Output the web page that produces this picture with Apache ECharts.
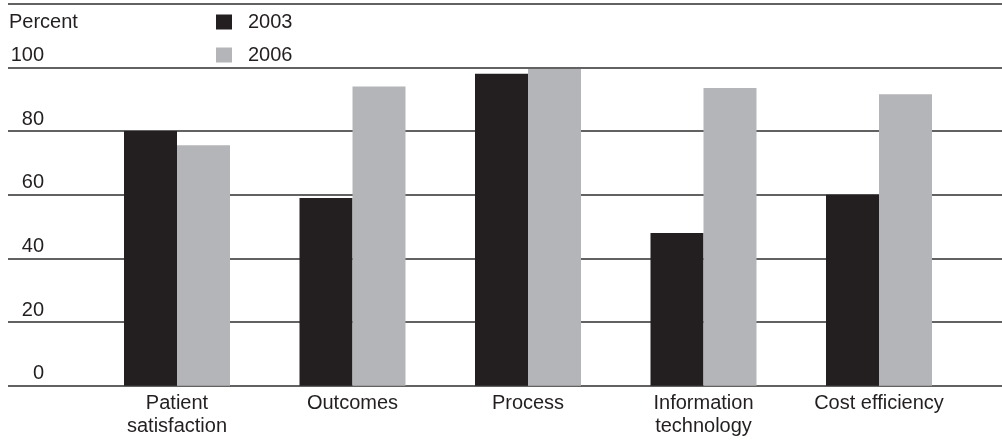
<!DOCTYPE html>
<html>
<head>
<meta charset="utf-8">
<script src="https://cdn.jsdelivr.net/npm/echarts@6/dist/echarts.min.js"></script>
<style>
html,body{margin:0;padding:0;background:#fff;}
#chart{width:1002px;height:445px;}
</style>
</head>
<body>
<div id="chart"></div>
<script>
var categories = ['Patient\nsatisfaction', 'Outcomes', 'Process', 'Information\ntechnology', 'Cost efficiency'];
var seriesNames = ['2003', '2006'];
var values2003 = [80, 59, 98, 48, 60];
var values2006 = [75.5, 94, 99.5, 93.5, 91.5];
var yTicks = [0, 20, 40, 60, 80, 100];
var unitLabel = 'Percent';

var FONT = 'Liberation Sans';
var TXT = '#231f20';
var chart = echarts.init(document.getElementById('chart'), null, {renderer: 'canvas'});

function legendAt(name, top) {
  return {
    orient: 'vertical', left: 216, top: top, padding: 0,
    itemWidth: 16, itemHeight: 15, itemGap: 0,
    icon: 'rect',
    textStyle: {fontFamily: FONT, fontSize: 20, color: TXT, lineHeight: 15, padding: [2, 0, 0, 11]},
    data: [name]
  };
}

chart.setOption({
  animation: false,
  backgroundColor: '#fff',
  textStyle: {fontFamily: FONT},
  graphic: [{
    type: 'text', left: 9, top: 12,
    style: {text: unitLabel, font: '20px "' + FONT + '"', fill: TXT}
  }],
  legend: [legendAt(seriesNames[0], 12), legendAt(seriesNames[1], 45)],
  grid: [
    {left: 8, right: 0, top: 3.6, bottom: 59.2},
    {left: 89.25, width: 877.5, top: 3.6, bottom: 59.2}
  ],
  xAxis: [
    {gridIndex: 0, type: 'value', min: 0, max: 1, show: false},
    {gridIndex: 1, type: 'category', data: categories,
     axisLine: {show: false}, axisTick: {show: false},
     axisLabel: {fontFamily: FONT, fontSize: 20, color: TXT, lineHeight: 23, margin: 6, interval: 0}}
  ],
  yAxis: [
    {gridIndex: 0, type: 'value', min: 0, max: 120, interval: 20,
     axisLine: {show: false}, axisTick: {show: false},
     splitLine: {show: true, lineStyle: {color: '#2e2e2e', width: 1.6}},
     axisLabel: {inside: true, align: 'right', margin: 36, verticalAlign: 'bottom',
       padding: [0, 0, 2, 0], fontFamily: FONT, fontSize: 20, color: TXT,
       formatter: function (v) { return yTicks.indexOf(v) >= 0 ? String(v) : ''; }}},
    {gridIndex: 1, type: 'value', min: 0, max: 120, interval: 20, show: false,
     splitLine: {show: false}}
  ],
  series: [
    {name: seriesNames[0], type: 'bar', xAxisIndex: 1, yAxisIndex: 1,
     data: values2003, barWidth: 53, barGap: '0%', itemStyle: {color: '#231f20'}},
    {name: seriesNames[1], type: 'bar', xAxisIndex: 1, yAxisIndex: 1,
     data: values2006, barWidth: 53, barGap: '0%', itemStyle: {color: '#b4b5b8'}}
  ]
});
</script>
</body>
</html>
